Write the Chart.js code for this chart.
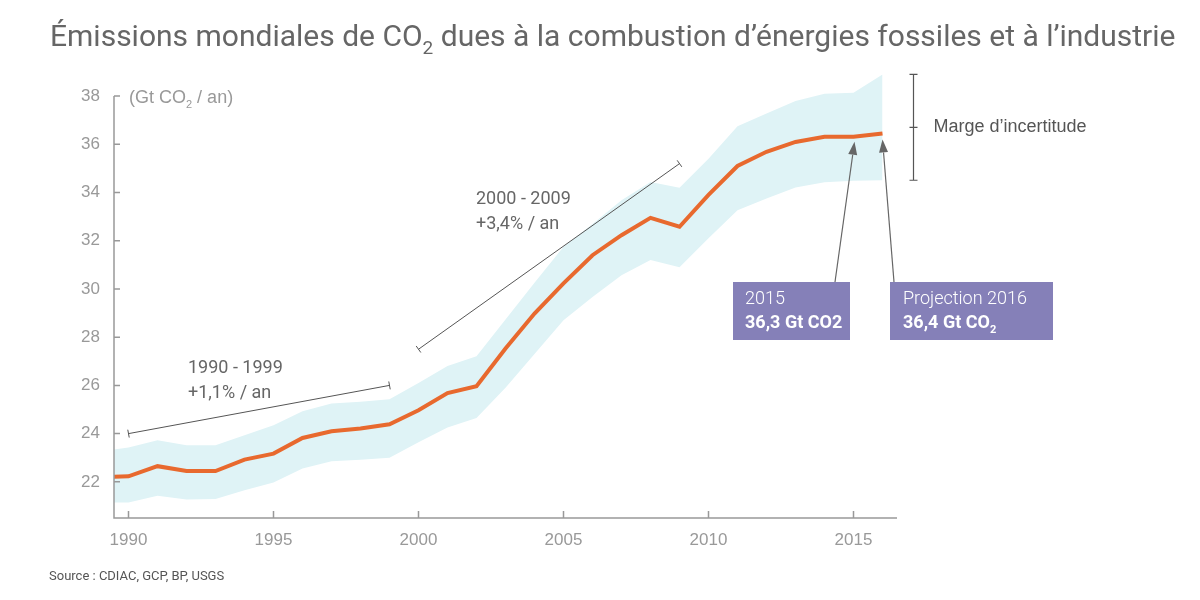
<!DOCTYPE html>
<html>
<head>
<meta charset="utf-8">
<script src="https://cdn.jsdelivr.net/npm/chart.js@4.4.1/dist/chart.umd.min.js"></script>
<style>
html,body{margin:0;padding:0;background:#fff}
#wrap{width:1200px;height:600px}
</style>
</head>
<body>
<div id="wrap"><canvas id="chart" width="1200" height="600"></canvas></div>
<script>
// values (Gt CO2 / an)
const years = [1989,1990,1991,1992,1993,1994,1995,1996,1997,1998,1999,2000,2001,2002,
  2003,2004,2005,2006,2007,2008,2009,2010,2011,2012,2013,2014,2015,2016];

const emissions = [22.2,22.23,22.65,22.45,22.45,22.92,23.17,23.82,24.1,24.21,24.39,24.97,25.68,25.97,
  27.53,28.98,30.23,31.4,32.23,32.95,32.58,33.9,35.1,35.69,36.1,36.31,36.31,36.45];

const upper = [23.27,23.42,23.73,23.52,23.52,23.93,24.35,24.93,25.25,25.32,25.43,26.1,26.8,27.21,
  28.73,30.26,31.75,32.7,33.68,34.44,34.2,35.4,36.75,37.28,37.8,38.1,38.14,38.9];

const lower = [21.14,21.14,21.42,21.27,21.29,21.65,21.97,22.55,22.85,22.92,23.0,23.64,24.25,24.65,
  25.9,27.3,28.7,29.67,30.57,31.2,30.9,32.1,33.27,33.75,34.21,34.43,34.49,34.51];

const xTicks = [1990,1995,2000,2005,2010,2015];
const yTicks = [22,24,26,28,30,32,34,36,38];

const ARIAL = "'Liberation Sans', Arial, sans-serif";
const ROBOTO = "Roboto, 'Noto Sans', sans-serif";

const pts = arr => years.map((y,i)=>({x:y,y:arr[i]}));

// text with subscripts: runs = ["CO", ["2"], " ..."]
function drawRuns(ctx, runs, x, y, size, weight, family, color){
  ctx.fillStyle = color;
  ctx.textBaseline = "alphabetic";
  ctx.textAlign = "left";
  runs.forEach(r=>{
    if (Array.isArray(r)){
      ctx.font = weight+" "+Math.round(size*0.62)+"px "+family;
      ctx.fillText(r[0], x, y+size*0.28);
      x += ctx.measureText(r[0]).width;
    } else {
      ctx.font = weight+" "+size+"px "+family;
      ctx.fillText(r, x, y);
      x += ctx.measureText(r).width;
    }
  });
}

function capped(ctx,x1,y1,x2,y2){
  const dx=x2-x1, dy=y2-y1, L=Math.hypot(dx,dy);
  const nx=-dy/L*4, ny=dx/L*4;
  ctx.beginPath();
  ctx.moveTo(x1,y1); ctx.lineTo(x2,y2);
  ctx.moveTo(x1-nx,y1-ny); ctx.lineTo(x1+nx,y1+ny);
  ctx.moveTo(x2-nx,y2-ny); ctx.lineTo(x2+nx,y2+ny);
  ctx.stroke();
}

function arrow(ctx,x1,y1,x2,y2){
  const dx=x2-x1, dy=y2-y1, L=Math.hypot(dx,dy);
  const ux=dx/L, uy=dy/L, hl=13, hw=4.5;
  const bx=x2-ux*hl, by=y2-uy*hl;
  ctx.beginPath();
  ctx.moveTo(x1,y1); ctx.lineTo(bx,by);
  ctx.stroke();
  ctx.beginPath();
  ctx.moveTo(x2,y2);
  ctx.lineTo(bx-uy*hw, by+ux*hw);
  ctx.lineTo(bx+uy*hw, by-ux*hw);
  ctx.closePath();
  ctx.fill();
}

const decor = {
  id:"decor",
  afterDraw(chart){
    const ctx = chart.ctx;
    const xs = chart.scales.x, ys = chart.scales.y;
    const X = v=>xs.getPixelForValue(v), Y = v=>ys.getPixelForValue(v);
    const a = chart.chartArea;
    ctx.save();

    // title
    drawRuns(ctx, ["Émissions mondiales de CO",["2"]," dues à la combustion d’énergies fossiles et à l’industrie"],
      50, 46, 30, "400", ROBOTO, "#666");

    // axes
    ctx.strokeStyle = "#999";
    ctx.lineWidth = 1.5;
    ctx.beginPath();
    ctx.moveTo(a.left, Y(38)); ctx.lineTo(a.left, a.bottom); ctx.lineTo(a.right, a.bottom);
    yTicks.forEach(v=>{ ctx.moveTo(a.left, Y(v)); ctx.lineTo(a.left+6, Y(v)); });
    xTicks.forEach(v=>{ ctx.moveTo(X(v), a.bottom); ctx.lineTo(X(v), a.bottom-7); });
    ctx.stroke();

    // unit
    drawRuns(ctx, ["(Gt CO",["2"]," / an)"], 129, 103, 18, "400", ARIAL, "#999");

    // trend segments
    ctx.strokeStyle = "#555";
    ctx.lineWidth = 1;
    capped(ctx, X(1990), Y(24.0), X(1999), Y(26.0));
    capped(ctx, X(2000), Y(27.5), X(2009), Y(35.2));
    ctx.fillStyle = "#666";
    ctx.font = "400 18px "+ROBOTO;
    ctx.textAlign = "left";
    ctx.fillText("1990 - 1999", 188, 373);
    ctx.fillText("+1,1% / an", 188, 398);
    ctx.fillText("2000 - 2009", 476, 204);
    ctx.fillText("+3,4% / an", 476, 229);

    // uncertainty bracket
    const bx = X(2016)+31;
    const top = Y(upper[27]), bot = Y(lower[27]), mid = (top+bot)/2;
    ctx.strokeStyle = "#555";
    ctx.lineWidth = 1.2;
    ctx.beginPath();
    ctx.moveTo(bx, top); ctx.lineTo(bx, bot);
    [top, mid, bot].forEach(p=>{
      ctx.moveTo(bx-4, p); ctx.lineTo(bx+4, p);
    });
    ctx.stroke();
    ctx.fillStyle = "#555";
    ctx.font = "400 18px "+ARIAL;
    ctx.fillText("Marge d’incertitude", bx+20, mid+5);

    // boxes
    ctx.fillStyle = "#8580b8";
    ctx.fillRect(733, 282, 117, 58);
    ctx.fillRect(890, 282, 163, 58);
    drawRuns(ctx, ["2015"], 745, 304, 18, "300", ROBOTO, "#fff");
    drawRuns(ctx, ["36,3 Gt CO2"], 745, 328, 18, "700", ROBOTO, "#fff");
    drawRuns(ctx, ["Projection 2016"], 903, 304, 18, "300", ROBOTO, "#fff");
    drawRuns(ctx, ["36,4 Gt CO",["2"]], 903, 328, 18, "700", ROBOTO, "#fff");

    // arrows
    ctx.strokeStyle = "#666";
    ctx.fillStyle = "#666";
    ctx.lineWidth = 1.2;
    arrow(ctx, 835, 282, X(2015)+1, Y(emissions[26])+5);
    arrow(ctx, 894, 282, X(2016), Y(emissions[27])+6);

    // source
    ctx.fillStyle = "#555";
    ctx.font = "400 13px "+ROBOTO;
    ctx.fillText("Source : CDIAC, GCP, BP, USGS", 49, 580);

    ctx.restore();
  }
};

new Chart(document.getElementById("chart"), {
  type: "line",
  data: {
    datasets: [
      {
        label: "Émissions",
        data: pts(emissions),
        borderColor: "#e8692e",
        borderWidth: 4,
        pointRadius: 0,
        fill: false,
        tension: 0,
        order: 0
      },
      {
        label: "haut",
        data: pts(upper),
        borderWidth: 0,
        borderColor: "rgba(0,0,0,0)",
        backgroundColor: "#dff3f6",
        pointRadius: 0,
        fill: "+1",
        order: 1
      },
      {
        label: "bas",
        data: pts(lower),
        borderWidth: 0,
        borderColor: "rgba(0,0,0,0)",
        pointRadius: 0,
        fill: false,
        order: 2
      }
    ]
  },
  options: {
    responsive: false,
    animation: false,
    layout: { padding: { top: 72, right: 303, bottom: 0, left: 0 } },
    plugins: { legend: { display: false }, tooltip: { enabled: false }, title: { display: false } },
    scales: {
      x: {
        type: "linear",
        min: 1989.5,
        max: 2016.5,
        afterBuildTicks(s){ s.ticks = xTicks.map(v=>({value:v})); },
        afterFit(s){ s.height = 82; },
        grid: { display: false, drawTicks: false },
        border: { display: false },
        ticks: { font: { family: ARIAL, size: 17 }, color: "#999", padding: 12, maxRotation: 0, autoSkip: false, callback: v=>String(v) }
      },
      y: {
        min: 20.5,
        max: 39,
        afterBuildTicks(s){ s.ticks = yTicks.map(v=>({value:v})); },
        afterFit(s){ s.width = 114; },
        grid: { display: false, drawTicks: false },
        border: { display: false },
        ticks: { font: { family: ARIAL, size: 17 }, color: "#999", padding: 14, autoSkip: false, callback: v=>String(v) }
      }
    }
  },
  plugins: [decor]
});
</script>
</body>
</html>
